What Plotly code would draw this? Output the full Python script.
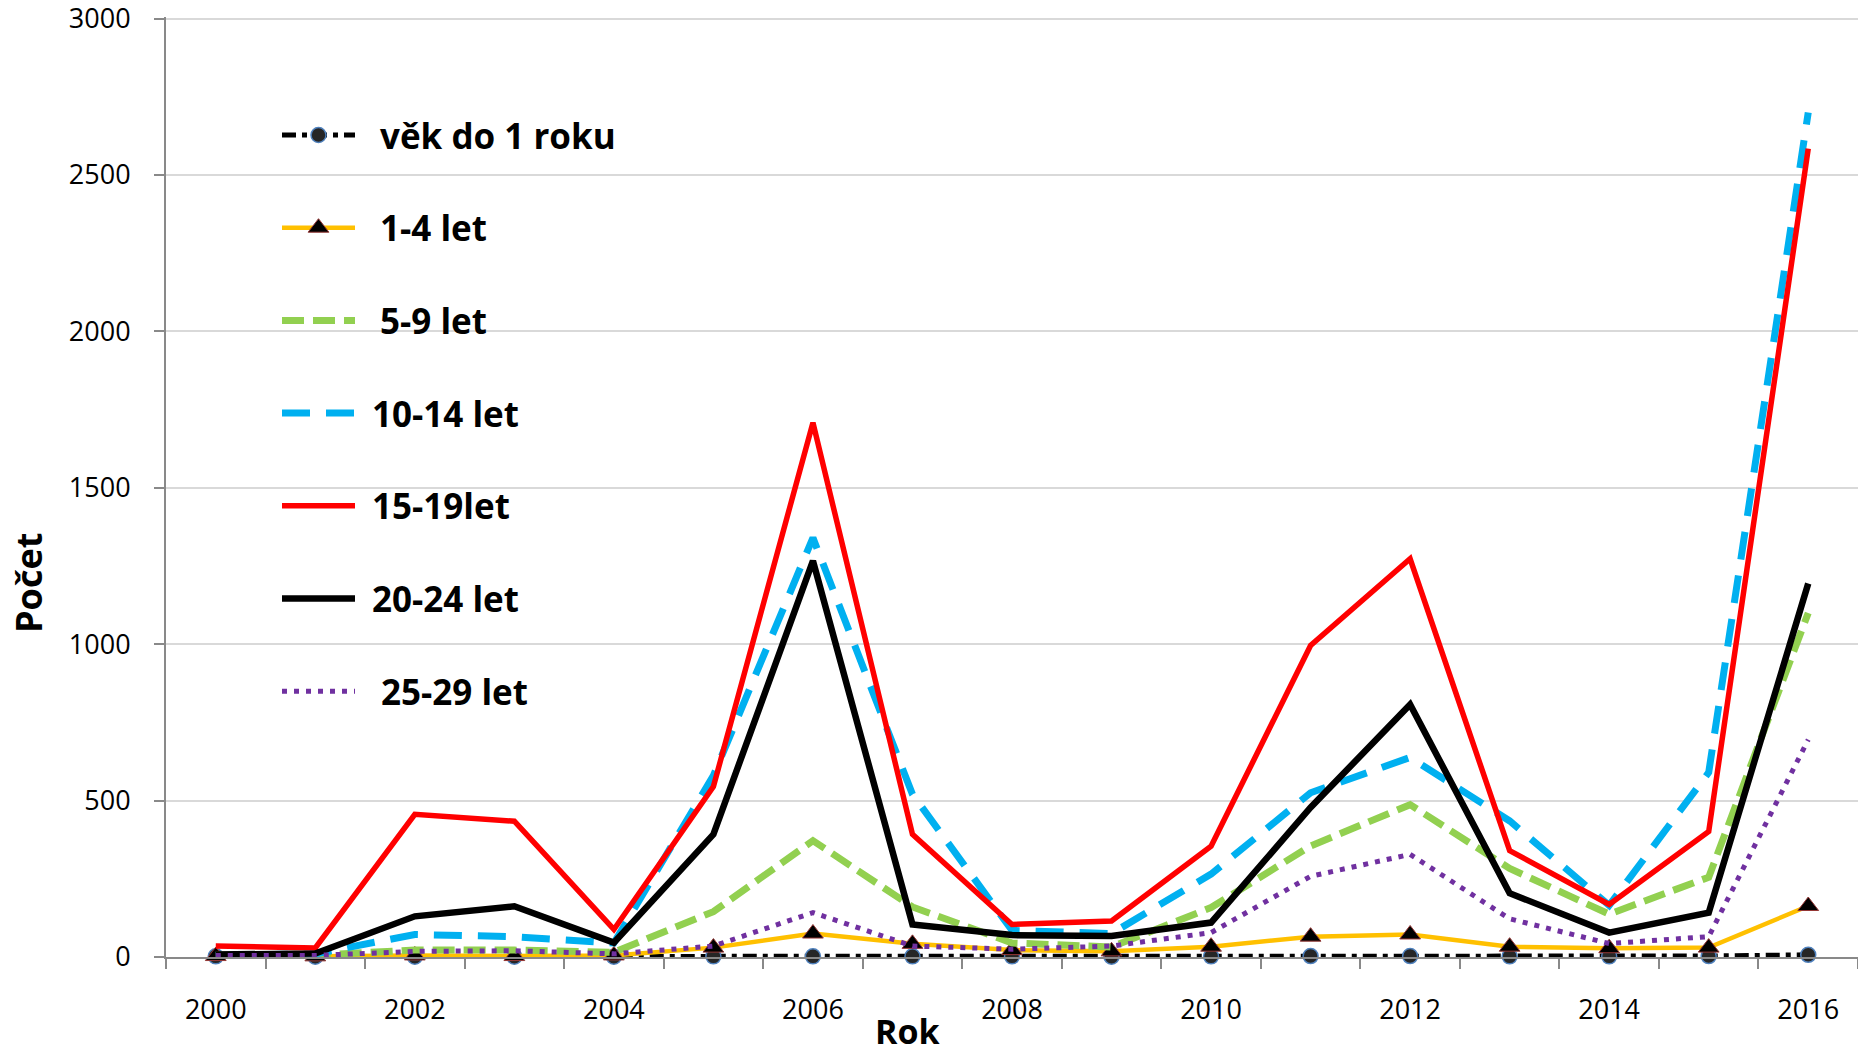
import plotly.graph_objects as go

# ---------------- data ----------------
years = list(range(2000, 2017))
series_names = ["věk do 1 roku", "1-4 let", "5-9 let", "10-14 let", "15-19let", "20-24 let", "25-29 let"]
vek_do_1 = [2, 1, 1, 1, 1, 2, 2, 2, 2, 1, 2, 3, 3, 2, 2, 3, 7]
let_1_4 = [3, 2, 5, 3, 5, 30, 75, 42, 22, 18, 33, 65, 72, 33, 28, 30, 163]
let_5_9 = [6, 6, 22, 22, 15, 145, 372, 160, 45, 32, 158, 355, 487, 283, 137, 255, 1100]
let_10_14 = [5, 10, 72, 65, 45, 580, 1340, 520, 85, 75, 265, 525, 638, 435, 165, 590, 2700]
let_15_19 = [35, 29, 456, 434, 88, 545, 1708, 392, 104, 115, 354, 996, 1273, 340, 168, 401, 2584]
let_20_24 = [8, 11, 130, 162, 46, 392, 1266, 104, 70, 67, 110, 478, 807, 204, 78, 142, 1194]
let_25_29 = [5, 5, 18, 20, 10, 35, 142, 35, 25, 35, 78, 258, 328, 122, 43, 65, 695]
x_tick_labels = [str(y) for y in range(2000, 2017, 2)]
y_tick_values = [0, 500, 1000, 1500, 2000, 2500, 3000]

series_values = [vek_do_1, let_1_4, let_5_9, let_10_14, let_15_19, let_20_24, let_25_29]

# ---------------- styles ----------------
FONT = "Open Sans, Liberation Sans, Arial, sans-serif"
styles = [
    dict(line=dict(color="#000000", width=5, dash="14px,6px,5px,6px"),
         marker=dict(symbol="circle", size=15, color="#262626", line=dict(color="#4f81bd", width=1.5)),
         mode="lines+markers"),
    dict(line=dict(color="#ffc000", width=4.5),
         marker=dict(symbol="triangle-up", size=18, color="#000000", line=dict(color="#953735", width=1)),
         mode="lines+markers"),
    dict(line=dict(color="#92d050", width=7, dash="22px,9px"), mode="lines"),
    dict(line=dict(color="#00b0f0", width=7, dash="28px,16px"), mode="lines"),
    dict(line=dict(color="#ff0000", width=5.5), mode="lines"),
    dict(line=dict(color="#000000", width=6.5), mode="lines"),
    dict(line=dict(color="#7030a0", width=5, dash="5px,7px"), mode="lines"),
]

W, H = 1858, 1055
L, R, T, B = 166, 0, 17, 98
Y_TOP = 3005

fig = go.Figure()
for name, vals, st in zip(series_names, series_values, styles):
    fig.add_trace(go.Scatter(x=years, y=vals, name=name, showlegend=False,
                             cliponaxis=False, **st))

# ---------- custom legend (overlay pixel axes) ----------
leg_y0, leg_dy = 135, 92.7
leg_x0, leg_x1 = 282, 355
text_x = [378, 378, 378, 370, 370, 370, 379]
for i, (name, st) in enumerate(zip(series_names, styles)):
    yy = leg_y0 + i * leg_dy
    fig.add_trace(go.Scatter(x=[leg_x0, leg_x1], y=[yy, yy], mode="lines",
                             line=st["line"], xaxis="x2", yaxis="y2",
                             showlegend=False, hoverinfo="skip"))
    if "marker" in st:
        fig.add_trace(go.Scatter(x=[(leg_x0 + leg_x1) / 2], y=[yy], mode="markers",
                                 marker=st["marker"], xaxis="x2", yaxis="y2",
                                 showlegend=False, hoverinfo="skip"))
    fig.add_annotation(x=text_x[i], y=yy, xref="x2", yref="y2", text=name,
                       showarrow=False, xanchor="left", yanchor="middle",
                       font=dict(family=FONT, size=35, color="#000000", weight="bold"))


def px_to_paper(px, py):
    return (px - L) / (W - L - R), (H - B - py) / (H - T - B)

rx, ry = px_to_paper(907, 1031)
fig.add_annotation(x=rx, y=ry, xref="paper", yref="paper", text="<b>Rok</b>",
                   showarrow=False, xanchor="center", yanchor="middle",
                   font=dict(family=FONT, size=34, color="#000000"))
px_, py_ = px_to_paper(29, 583)
fig.add_annotation(x=px_, y=py_, xref="paper", yref="paper", text="<b>Počet</b>",
                   showarrow=False, xanchor="center", yanchor="middle", textangle=-90,
                   font=dict(family=FONT, size=36, color="#000000"))

AX = "#898989"
fig.update_layout(
    width=W, height=H,
    margin=dict(l=L, r=R, t=T, b=B, pad=0),
    paper_bgcolor="white", plot_bgcolor="white",
    font=dict(family=FONT, size=27, color="#000000"),
    showlegend=False,
    xaxis=dict(range=[1999.5, 2016.5], tickmode="array",
               tickvals=[int(t) for t in x_tick_labels], ticktext=x_tick_labels,
               ticks="", showgrid=False, zeroline=False,
               showline=True, linecolor=AX, linewidth=2,
               ticklabelstandoff=28, ticklabeloverflow="allow",
               tickfont=dict(family=FONT, size=27, color="#000000"),
               minor=dict(tickmode="array", tickvals=[y - 0.5 for y in years] + [years[-1] + 0.5],
                          ticks="outside", ticklen=10, tickcolor=AX, tickwidth=2, showgrid=False)),
    yaxis=dict(range=[0, Y_TOP], tickmode="array", tickvals=y_tick_values,
               ticks="outside", ticklen=10, tickcolor=AX, tickwidth=2,
               showgrid=True, gridcolor="#d9d9d9", gridwidth=2,
               zeroline=False, showline=True, linecolor=AX, linewidth=2,
               ticklabelstandoff=18, ticklabeloverflow="allow",
               tickfont=dict(family=FONT, size=27, color="#000000")),
    xaxis2=dict(overlaying="x", range=[L, W - R], visible=False, fixedrange=True),
    yaxis2=dict(overlaying="y", range=[H - B, T], visible=False, fixedrange=True),
)

fig.write_html("out.html", config={"displayModeBar": False},
               post_script="document.body.style.margin='0px';")
